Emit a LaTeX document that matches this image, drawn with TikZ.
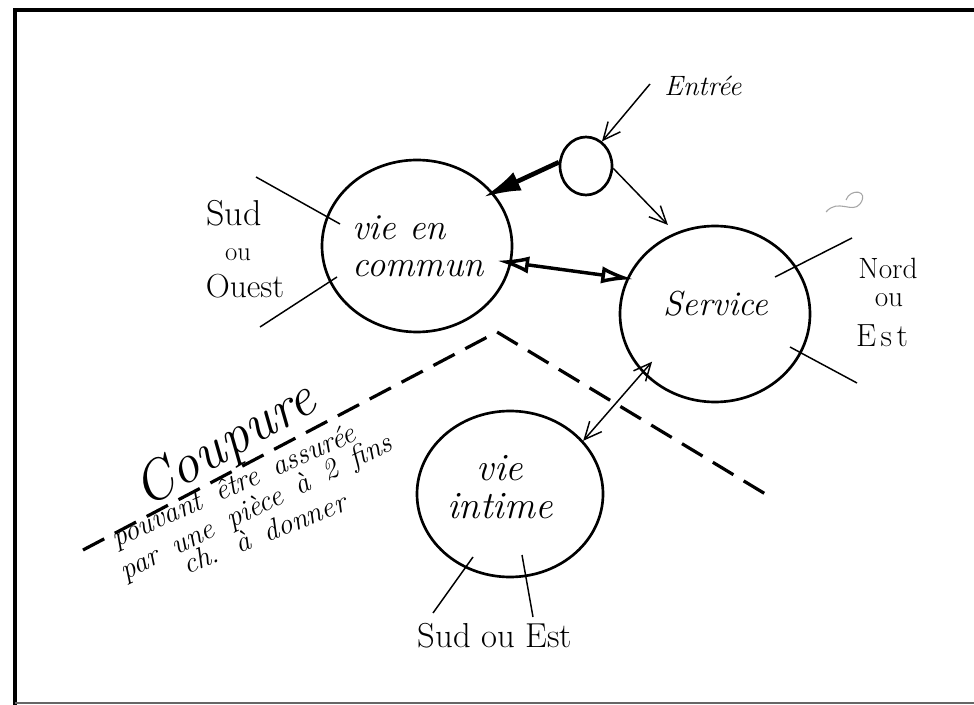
\documentclass[tikz,border=0pt]{standalone}
\usepackage{fontspec}
\usetikzlibrary{arrows.meta,shapes.geometric}
\tikzset{
  barb/.tip={Straight Barb[length=13pt,width=12pt]},
  heavy/.tip={Latex[length=28pt,width=15pt]},
  heavyopen/.tip={Latex[open,length=24pt,width=13pt]},
}
\begin{document}
\begin{tikzpicture}[x=0.75pt,y=-0.75pt,
  room/.style={draw, ellipse, line width=2pt, inner sep=0pt},
  roomtext/.style={font=\itshape\fontsize{#1}{28}\selectfont, inner sep=0pt},
  compass/.style={font=\fontsize{#1}{#1}\selectfont, inner sep=0pt},
  note/.style={font=\itshape\fontsize{22}{26}\selectfont, inner sep=0pt,
    execute at begin node={\spaceskip=0.55em\relax}},
  tick/.style={line width=1.1pt},
]
\useasboundingbox (0,0) rectangle (974,705);
\fill[white] (0,0) rectangle (974,705);

% sheet edges
\draw[line width=3pt] (974,10) -- (15,10) -- (15,705);
\draw[line width=1.5pt, black!60] (15,703) -- (974,703);

% rooms
\node[room, minimum width=142.5pt, minimum height=129pt] (commun) at (417,246) {};
\node[room, minimum width=39pt, minimum height=43.5pt] (porch) at (586,166) {};
\node[room, minimum width=142.5pt, minimum height=132pt] (service) at (715,314) {};
\node[room, minimum width=139.5pt, minimum height=124.5pt] (intime) at (510,494) {};

% room names
\node[roomtext=27.5, align=left] (communName) at (418,246) {vie en\\commun};
\node[roomtext=26] (serviceName) at (716,304) {Service};
\node[roomtext=29, align=center] (intimeName) at (500,487) {vie\\intime};

% entrance
\node[font=\itshape\fontsize{21}{24}\selectfont, inner sep=0pt] (entree) at (703,86) {Entrée};
\coordinate (entreeTail) at (650,84);
\draw[line width=1.1pt, -{barb}] (entreeTail) -- (porch.57);
\draw[line width=1.1pt, -{barb}, shorten >=8pt] (porch.-5) -- (service.116);
\draw[line width=3.5pt, -{heavy}, shorten >=-8pt] (porch.172) -- (commun.35);

% links between rooms
\draw[line width=2.6pt, {heavyopen}-{heavyopen}, shorten <=-11pt, shorten >=-5pt]
  (commun.-10) -- (service.158);
\draw[line width=1.1pt, {barb}-{barb}, shorten <=-11pt] (service.219) -- (intime.36);

% orientation ticks
\draw[tick] (256,177) -- (340,224);
\draw[tick] (260,327) -- (337,277);
\draw[tick] (775,277) -- (852,238);
\draw[tick] (790,347) -- (857,383);
\draw[tick] (473,557) -- (433,613);
\draw[tick] (522,555) -- (533,617);

% orientation labels
\node[compass=27] (sud) at (234,213) {Sud};
\node[compass=20] (ou1) at (238,255) {ou};
\node[compass=25] (ouest) at (245,286) {Ouest};
\node[compass=22] (nord) at (888,268) {Nord};
\node[compass=22] (ou2) at (889,300) {ou};
\node[compass=24] (est) at (882,336) {E\kern0.14em s\kern0.14em t};
\node[compass=26] (sudest) at (495,636) {Sud ou Est};

% cut line between day and night parts
\draw[line width=2.4pt, dash pattern=on 18pt off 9pt] (83,550) -- (497,332) -- (772,498);
\node[font=\itshape\fontsize{42}{46}\selectfont, rotate=30, inner sep=0pt] (coupure) at (226,446) {Coupure};
\node[note, rotate=24] (n1) at (234,487) {pouvant être assurée};
\node[note, rotate=26] (n2) at (257,508) {par une pièce à 2 fins};
\node[note, rotate=22] (n3) at (264,533) {ch. à donner};

% stray pencil mark
\draw[black!35, line width=0.8pt] (826,212) .. controls (838,198) and (852,214) .. (860,204)
  .. controls (870,190) and (850,188) .. (846,200);
\end{tikzpicture}
\end{document}
